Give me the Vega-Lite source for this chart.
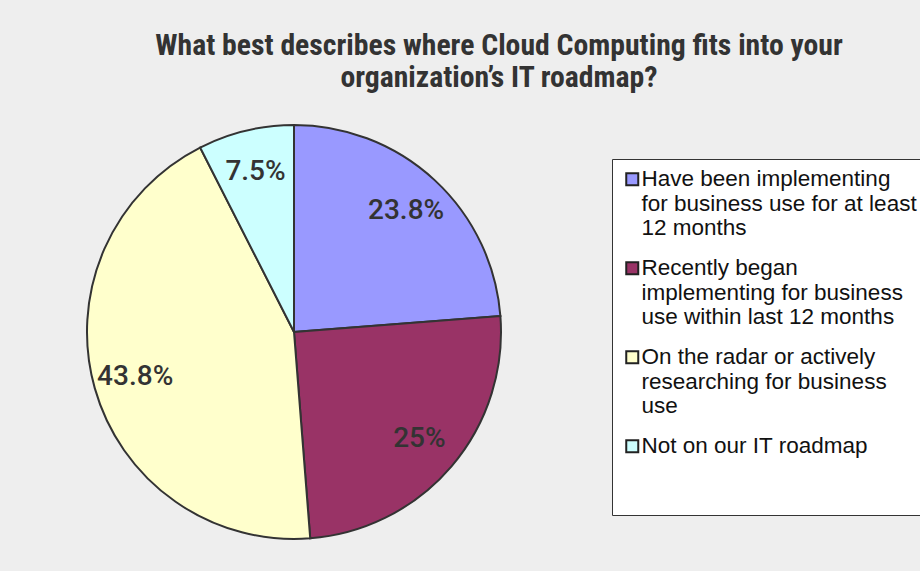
{
  "$schema": "https://vega.github.io/schema/vega-lite/v6.json",
  "autosize": {"type": "none"},
  "width": 588,
  "height": 346,
  "padding": {"left": 0, "top": 159, "right": 332, "bottom": 66},
  "background": "#eeeeee",
  "view": {"stroke": null},
  "title": {
    "text": ["What best describes where Cloud Computing fits into your", "organization’s IT roadmap?"],
    "anchor": "middle",
    "dx": 205,
    "offset": 27,
    "font": "Liberation Sans Narrow, Roboto Condensed, Liberation Sans",
    "fontSize": 29.7,
    "fontWeight": "bold",
    "color": "#333333",
    "lineHeight": 32
  },
  "data": {
    "values": [
      {"category": "Have been implementing|for business use for at least|12 months", "value": 23.8, "pct": "23.8%", "order": 1},
      {"category": "Recently began|implementing for business|use within last 12 months", "value": 25, "pct": "25%", "order": 2},
      {"category": "On the radar or actively|researching for business|use", "value": 43.8, "pct": "43.8%", "order": 3},
      {"category": "Not on our IT roadmap", "value": 7.5, "pct": "7.5%", "order": 4}
    ]
  },
  "encoding": {
    "theta": {"field": "value", "type": "quantitative", "stack": true},
    "order": {"field": "order", "type": "quantitative"}
  },
  "layer": [
    {
      "mark": {"type": "arc", "outerRadius": 207, "stroke": "#333333", "strokeWidth": 2},
      "encoding": {
        "color": {
          "field": "category",
          "type": "nominal",
          "sort": null,
          "scale": {
            "domain": [
              "Have been implementing|for business use for at least|12 months",
              "Recently began|implementing for business|use within last 12 months",
              "On the radar or actively|researching for business|use",
              "Not on our IT roadmap"
            ],
            "range": ["#9999ff", "#993366", "#ffffcc", "#ccffff"]
          },
          "legend": {
            "title": " ",
            "titleOrient": "bottom",
            "titleFontSize": 1,
            "titlePadding": 47,
            "orient": "right",
            "offset": 24,
            "padding": 9,
            "fillColor": "#ffffff",
            "strokeColor": "#333333",
            "symbolType": "square",
            "symbolSize": 144,
            "symbolStrokeColor": "#222222",
            "symbolStrokeWidth": 2,
            "symbolOpacity": 1,
            "labelFont": "Liberation Sans",
            "labelFontSize": 22.5,
            "labelColor": "#111111",
            "labelOffset": -2,
            "labelLimit": 400,
            "rowPadding": 17,
            "labelExpr": "split(datum.label, '|')"
          }
        }
      }
    },
    {
      "mark": {"type": "text", "radius": 165, "font": "Roboto", "fontSize": 28, "fontWeight": 500, "color": "#333333"},
      "encoding": {
        "text": {"field": "pct", "type": "nominal"}
      }
    }
  ]
}
